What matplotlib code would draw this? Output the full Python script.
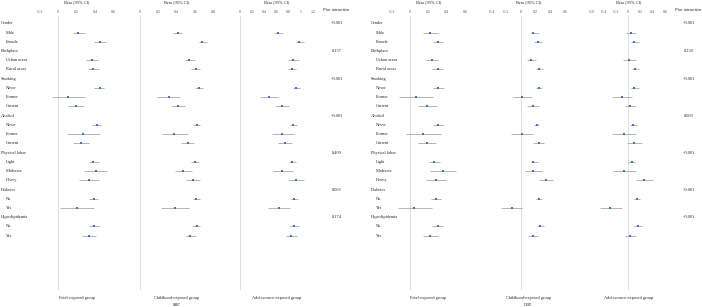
import matplotlib.pyplot as plt
import matplotlib.transforms as mtransforms
import numpy as np

plt.rcParams['font.family'] = ['Liberation Serif', 'DejaVu Serif']

# rows of the forest plot
row_labels = ['Gender', 'Male', 'Female', 'Birthplace', 'Urban areas', 'Rural areas',
              'Smoking', 'Never', 'Former', 'Current', 'Alcohol', 'Never', 'Former', 'Current',
              'Physical labor', 'Light', 'Moderate', 'Heavy', 'Diabetes', 'No', 'Yes',
              'Hyperlipidemia', 'No', 'Yes']
header_rows = [0, 3, 6, 10, 14, 18, 21]
sub_rows = [r for r in range(len(row_labels)) if r not in header_rows]

groups = ['Fetal-exposed group', 'Childhood-exposed group', 'Adolescence-exposed group']

# SBP betas (subgroup rows only)
sbp_fetal_beta = [0.22, 0.46, 0.37, 0.38, 0.45, 0.11, 0.19, 0.42, 0.27, 0.245, 0.38, 0.41, 0.335, 0.39, 0.20, 0.39, 0.335]
sbp_fetal_lo = [0.16, 0.39, 0.30, 0.32, 0.39, -0.07, 0.11, 0.37, 0.10, 0.16, 0.33, 0.28, 0.23, 0.34, 0.02, 0.33, 0.26]
sbp_fetal_hi = [0.29, 0.52, 0.43, 0.44, 0.50, 0.29, 0.28, 0.47, 0.46, 0.33, 0.445, 0.53, 0.445, 0.43, 0.39, 0.45, 0.415]

sbp_child_beta = [0.41, 0.68, 0.54, 0.61, 0.64, 0.315, 0.41, 0.62, 0.37, 0.52, 0.60, 0.47, 0.58, 0.61, 0.38, 0.62, 0.55]
sbp_child_lo = [0.36, 0.64, 0.49, 0.56, 0.60, 0.19, 0.34, 0.58, 0.235, 0.45, 0.56, 0.38, 0.50, 0.58, 0.23, 0.57, 0.50]
sbp_child_hi = [0.46, 0.73, 0.60, 0.65, 0.69, 0.44, 0.49, 0.66, 0.52, 0.59, 0.64, 0.57, 0.66, 0.65, 0.54, 0.65, 0.61]

sbp_adol_beta = [0.63, 0.97, 0.87, 0.85, 0.92, 0.475, 0.68, 0.87, 0.69, 0.74, 0.85, 0.69, 0.91, 0.89, 0.64, 0.885, 0.84]
sbp_adol_lo = [0.56, 0.92, 0.79, 0.78, 0.86, 0.33, 0.57, 0.82, 0.52, 0.63, 0.80, 0.54, 0.78, 0.84, 0.46, 0.82, 0.75]
sbp_adol_hi = [0.71, 1.04, 0.97, 0.91, 0.98, 0.63, 0.80, 0.94, 0.89, 0.85, 0.91, 0.86, 1.05, 0.95, 0.82, 0.96, 0.93]

# DBP betas
dbp_fetal_beta = [0.22, 0.30, 0.24, 0.30, 0.31, 0.066, 0.19, 0.31, 0.146, 0.18, 0.265, 0.36, 0.28, 0.28, 0.047, 0.30, 0.22]
dbp_fetal_lo = [0.146, 0.25, 0.17, 0.24, 0.255, -0.12, 0.09, 0.255, -0.04, 0.09, 0.21, 0.22, 0.17, 0.23, -0.135, 0.245, 0.146]
dbp_fetal_hi = [0.30, 0.36, 0.31, 0.36, 0.37, 0.255, 0.29, 0.37, 0.335, 0.28, 0.33, 0.50, 0.39, 0.34, 0.235, 0.365, 0.30]

dbp_child_beta = [0.17, 0.23, 0.14, 0.25, 0.24, 0.015, 0.16, 0.215, 0.015, 0.24, 0.17, 0.17, 0.335, 0.24, -0.125, 0.26, 0.16]
dbp_child_lo = [0.13, 0.18, 0.08, 0.21, 0.20, -0.11, 0.08, 0.18, -0.13, 0.17, 0.14, 0.06, 0.25, 0.21, -0.275, 0.215, 0.10]
dbp_child_hi = [0.24, 0.28, 0.21, 0.30, 0.29, 0.15, 0.25, 0.25, 0.17, 0.32, 0.23, 0.29, 0.44, 0.29, 0.02, 0.31, 0.23]

dbp_adol_beta = [0.04, 0.10, 0.01, 0.11, 0.10, -0.11, 0.03, 0.08, -0.07, 0.10, 0.055, -0.07, 0.26, 0.135, -0.30, 0.16, 0.03]
dbp_adol_lo = [-0.04, 0.045, -0.08, 0.055, 0.045, -0.26, -0.05, 0.03, -0.26, -0.03, 0.0, -0.25, 0.125, 0.09, -0.47, 0.10, -0.05]
dbp_adol_hi = [0.125, 0.175, 0.12, 0.175, 0.175, 0.055, 0.125, 0.14, 0.125, 0.22, 0.11, 0.125, 0.41, 0.19, -0.11, 0.23, 0.12]

sbp_ticks = [[-0.2, 0, 0.2, 0.4, 0.6], [0, 0.2, 0.4, 0.6, 0.8], [0, 0.2, 0.4, 0.6, 0.8, 1.0, 1.2]]
dbp_ticks = [[-0.2, 0, 0.2, 0.4, 0.6], [-0.4, -0.2, 0, 0.2, 0.4, 0.6], [-0.6, -0.4, -0.2, 0, 0.2, 0.4, 0.6]]

sbp_p = ['<0.001', '0.157', '<0.001', '<0.001', '0.409', '0.003', '0.174']
dbp_p = ['<0.001', '0.230', '<0.001', '0.009', '<0.001', '<0.001', '<0.001']

W, H = 702, 307
fig = plt.figure(figsize=(W / 100, H / 100), dpi=100)

def fx(px):
    return px / W

def fy(py):
    return 1 - py / H

ax_top, ax_bot = 16, 290
row0_px, rowN_px = 23.3, 235.7
row_px = (rowN_px - row0_px) / (len(row_labels) - 1)
ylim_top = -(row0_px - ax_top) / row_px
ylim_bot = (len(row_labels) - 1) + (ax_bot - rowN_px) / row_px

txt_col = '#262626'
fs = 3.2

halves = [
    dict(x0=40, lab_x=1, p_x=337, name='SBP', ticks=sbp_ticks, p=sbp_p,
         data=[(sbp_fetal_beta, sbp_fetal_lo, sbp_fetal_hi),
               (sbp_child_beta, sbp_child_lo, sbp_child_hi),
               (sbp_adol_beta, sbp_adol_lo, sbp_adol_hi)]),
    dict(x0=391.7, lab_x=370.7, p_x=688.5, name='DBP', ticks=dbp_ticks, p=dbp_p,
         data=[(dbp_fetal_beta, dbp_fetal_lo, dbp_fetal_hi),
               (dbp_child_beta, dbp_child_lo, dbp_child_hi),
               (dbp_adol_beta, dbp_adol_lo, dbp_adol_hi)]),
]

panel_w = 73.3
for half in halves:
    axes = []
    for i in range(3):
        left = half['x0'] + 100 * i
        ax = fig.add_axes([fx(left), fy(ax_bot), fx(panel_w), (ax_bot - ax_top) / H])
        axes.append(ax)
        beta, lo, hi = [np.array(a) for a in half['data'][i]]
        ticks = half['ticks'][i]
        ax.axvline(0, color='#d9d9d9', lw=0.6, zorder=0)
        ax.errorbar(beta, sub_rows, xerr=[beta - lo, hi - beta], fmt='s', ms=1.7,
                    mfc='#4472c4', mec='#4472c4', mew=0, ecolor='#8c8c8c',
                    elinewidth=0.45, capsize=0.8, capthick=0.45)
        ax.set_xlim(ticks[0], ticks[-1])
        ax.set_ylim(ylim_bot, ylim_top)
        ax.set_yticks([])
        ax.xaxis.tick_top()
        ax.set_xticks(ticks)
        ax.set_xticklabels([f'{t:g}' for t in ticks])
        ax.tick_params(axis='x', length=0, pad=1.3, labelsize=3, colors='#595959')
        for s in ax.spines.values():
            s.set_visible(False)
        ax.patch.set_alpha(0)
        cx = left + panel_w / 2
        fig.text(fx(cx), fy(2.5), 'Beta (95% CI)', ha='center', va='center',
                 fontsize=fs, color=txt_col)
        fig.text(fx(cx), fy(297.7), groups[i], ha='center', va='center',
                 fontsize=fs, color=txt_col)
        if i == 1:
            fig.text(fx(cx), fy(305), half['name'], ha='center', va='center',
                     fontsize=fs, color=txt_col)

    trans = mtransforms.blended_transform_factory(fig.transFigure, axes[0].transData)
    for r, lab in enumerate(row_labels):
        x = half['lab_x'] if r in header_rows else half['lab_x'] + 5
        axes[0].text(fx(x), r, lab, transform=trans, ha='left', va='center',
                     fontsize=fs, color=txt_col)
    for r, pv in zip(header_rows, half['p']):
        axes[0].text(fx(half['p_x']), r, pv, transform=trans, ha='center', va='center',
                     fontsize=fs, color=txt_col)
    fig.text(fx(half['p_x']), fy(9.5), '$\\it{P}$ for interaction', ha='center', va='center',
             fontsize=3.0, color=txt_col)

plt.savefig('out.png', dpi=100)
